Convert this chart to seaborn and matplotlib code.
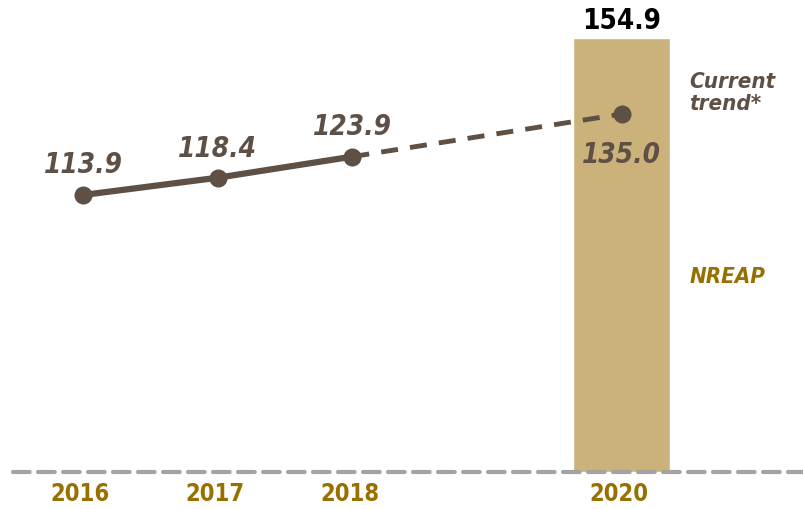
import pandas as pd
import matplotlib.pyplot as plt
import seaborn as sns

# data
hist_years = [2016, 2017, 2018]
hist_values = [113.9, 118.4, 123.9]
trend_years = [2018, 2020]
trend_values = [123.9, 135.0]
target_year = 2020
target_value = 154.9
tick_years = [2016, 2017, 2018, 2020]

BROWN = "#5f5045"
BAR = "#cbb27a"
GOLD = "#987000"
GREY = "#a3a3a3"

sns.set_style("white")
plt.rcParams['font.family'] = ['DejaVu Sans']

fig = plt.figure(figsize=(8.04, 5.09), dpi=100)
ax = fig.add_axes([0, 0, 1, 1])

ymin, ymax = 32.1, 164.7
x0, x1 = 2015.384, 2021.353
ax.set_xlim(x0, x1)
ax.set_ylim(ymin, ymax)
base = 41.8

# NREAP target bar
ax.bar(target_year, target_value - base, bottom=base, width=0.72, color=BAR, zorder=1)

# baseline
bl = ax.axhline(base, xmin=(2015.48 - x0) / (x1 - x0), xmax=1, color=GREY, lw=3,
                ls=(0, (4.0, 2.0)), zorder=2)
bl.set_dash_capstyle("round")

hist = pd.DataFrame({"year": hist_years, "value": hist_values})
trend = pd.DataFrame({"year": trend_years, "value": trend_values})
sns.lineplot(data=hist, x="year", y="value", ax=ax, color=BROWN, lw=4.5,
             marker="o", markersize=13, markeredgewidth=0, zorder=4)
sns.lineplot(data=trend, x="year", y="value", ax=ax, color=BROWN, lw=3.5,
             dashes=False, zorder=3)
ax.lines[-1].set_linestyle((0, (3.5, 2.5)))
ax.plot(trend_years[-1], trend_values[-1], "o", color=BROWN, ms=13, mew=0, zorder=4)

lab_kw = dict(color=BROWN, fontsize=20, fontweight="bold", fontstyle="italic",
              ha="center", va="center", stretch="condensed")
offsets = [7.9, 7.4, 7.7]
for yr, v, off in zip(hist_years, hist_values, offsets):
    ax.text(yr, v + off, f"{v:.1f}", **lab_kw)
ax.text(trend_years[-1] + 0.0, trend_values[-1] - 10.7, f"{trend_values[-1]:.1f}",
        **lab_kw)

ax.text(target_year, target_value + 0.6, f"{target_value:.1f}", color="black",
        fontsize=20, fontweight="bold", ha="center", va="bottom", stretch="condensed")

ax.text(2020.5, 146.0, "Current\ntrend*", color=BROWN, fontsize=16,
        fontweight="bold", fontstyle="italic", ha="left", va="top",
        linespacing=1.15, stretch="condensed")
ax.text(2020.5, 92.6, "NREAP", color=GOLD, fontsize=16, fontweight="bold",
        fontstyle="italic", ha="left", va="center", stretch="condensed")

for yr in tick_years:
    ax.text(yr - 0.02, 36.0, str(yr), color=GOLD, fontsize=17, fontweight="bold",
            ha="center", va="center", stretch="condensed")

ax.axis("off")
fig.savefig("out.png", dpi=100)
